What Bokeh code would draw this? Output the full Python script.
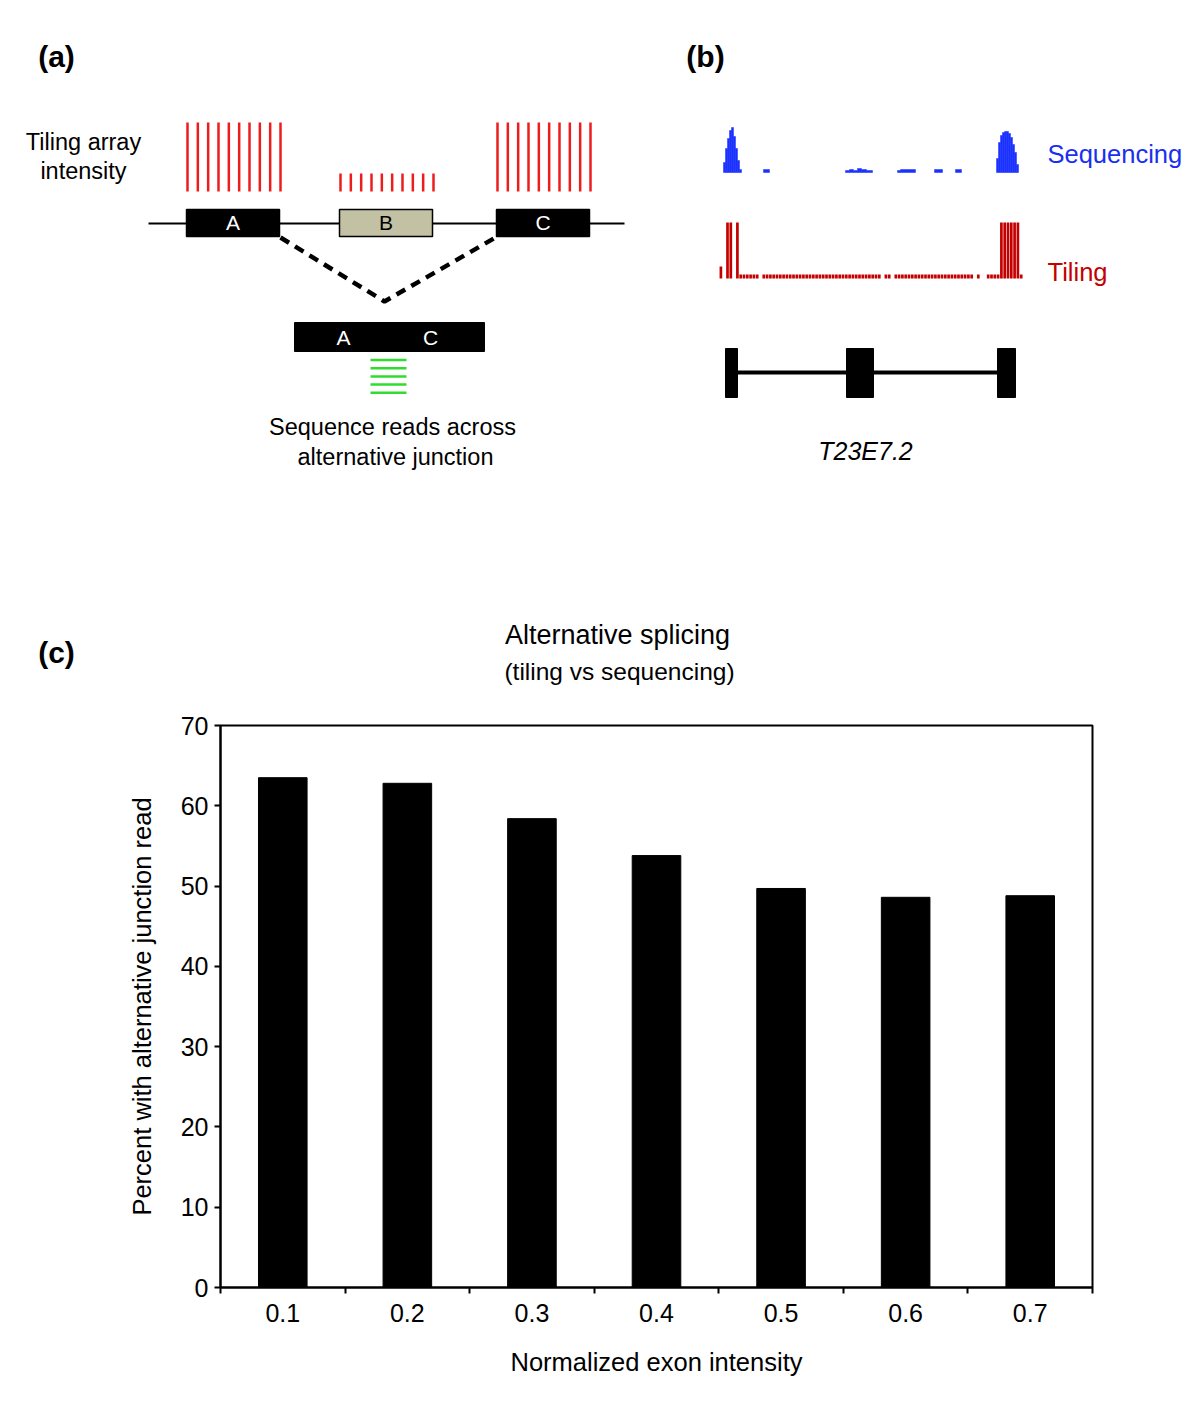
from bokeh.plotting import figure
from bokeh.models import Range1d, FixedTicker, CustomJSTickFormatter
from bokeh.embed import file_html
from bokeh.resources import INLINE
from bokeh.core.properties import value

FONT = "Liberation Sans"

# ---------------- data ----------------
# Panel (c): alternative splicing, tiling vs sequencing
intensity_labels = ["0.1", "0.2", "0.3", "0.4", "0.5", "0.6", "0.7"]
pct_with_junction_read = [63.5, 62.8, 58.4, 53.8, 49.7, 48.6, 48.8]
y_tick_values = [0, 10, 20, 30, 40, 50, 60, 70]

# Panel (a): schematic
exon_names = ["A", "B", "C"]
exon_tiling_intensity = [1.0, 0.26, 1.0]
probes_per_exon = 10
junction_read_count = 5

# Panel (b): T23E7.2 tracks
tiling_probe_signal = [3, 0, 14, 14, 0, 14, 1, 1, 1, 1,
                       1, 1, 0, 1, 1, 1, 1, 1, 1, 1,
                       1, 1, 1, 1, 1, 1, 1, 1, 1, 1,
                       1, 1, 1, 1, 1, 1, 1, 1, 1, 1,
                       1, 1, 1, 1, 1, 1, 1, 1, 1, 0,
                       1, 1, 0, 1, 1, 1, 1, 1, 1, 1,
                       1, 1, 1, 1, 1, 1, 1, 1, 1, 1,
                       1, 1, 1, 1, 1, 1, 1, 0, 1, 0,
                       0, 1, 1, 1, 1, 14, 14, 14, 14, 14,
                       14, 1]
# sequencing coverage as (start, end, depth) runs, in track coordinates (0 = track start)
seq_run_start = [3, 5, 7, 9, 11, 13, 15, 17, 19,
                 43,
                 125, 129, 133, 137, 141, 146,
                 177, 180, 214, 235,
                 276, 278, 280, 282, 284, 286, 288, 290, 292, 294, 296]
seq_run_end = [5, 7, 9, 11, 13, 15, 17, 19, 21,
               49,
               129, 133, 137, 141, 146, 152,
               180, 195, 222, 241,
               278, 280, 282, 284, 286, 288, 290, 292, 294, 296, 298]
seq_run_depth = [10, 24, 34, 42, 45, 36, 24, 12, 3,
                 3,
                 2, 3, 2, 4, 3, 2,
                 2, 3, 3, 3,
                 14, 30, 37, 40, 41, 41, 39, 35, 28, 20, 8]
gene_exon_start = [5, 126, 277]
gene_exon_end = [17, 153, 295]

# ---------------- top figure: panels (a), (b) and titles ----------------
TOP_H = 700
top = figure(width=1200, height=TOP_H, x_range=Range1d(0, 1200), y_range=Range1d(TOP_H, 0),
             x_axis_location=None, y_axis_location=None, toolbar_location=None,
             output_backend="svg", min_border=0, outline_line_color=None)
top.grid.visible = False


def txt(fig, x, y, s, size, color="black", align="center", style="normal"):
    fig.text(x=[x], y=[y], text=[s], text_font=value(FONT), text_font_size=size,
             text_color=color, text_align=align, text_baseline="middle",
             text_font_style=style)


txt(top, 56, 56, "(a)", "30px", style="bold")
txt(top, 705, 56, "(b)", "30px", style="bold")
txt(top, 56, 652, "(c)", "30px", style="bold")

# panel (a)
txt(top, 83, 141, "Tiling array", "23.5px")
txt(top, 83, 170, "intensity", "23.5px")
top.line([148, 624], [223, 223], line_color="black", line_width=2)
exon_left = [186, 339, 496]
exon_width = 93
probe_gap = exon_width / (probes_per_exon - 1)
base_y = 191
for name, left, inten in zip(exon_names, exon_left, exon_tiling_intensity):
    xs = [left + 1 + k * probe_gap for k in range(probes_per_exon)]
    top.segment(x0=xs, y0=[base_y] * len(xs), x1=xs, y1=[base_y - 69 * inten] * len(xs),
                line_color="#ee1c1c", line_width=2.5)
    is_skipped = name == "B"
    top.quad(left=[left], right=[left + exon_width], top=[209], bottom=[236],
             fill_color="#c3c1a4" if is_skipped else "black",
             line_color="black", line_width=1.5)
    txt(top, left + exon_width / 2, 222, name, "21px", color="black" if is_skipped else "white")

top.line([280, 384, 495], [237, 301, 237], line_color="black", line_width=4.5, line_dash="10 7")
top.quad(left=[294], right=[484], top=[322], bottom=[351], fill_color="black", line_color="black")
txt(top, 343, 337, "A", "21px", color="white")
txt(top, 430, 337, "C", "21px", color="white")
read_y = [359.5 + 8.2 * k for k in range(junction_read_count)]
top.segment(x0=[370] * junction_read_count, y0=read_y, x1=[406] * junction_read_count, y1=read_y,
            line_color="#2fdc2f", line_width=2.5)
txt(top, 392, 426, "Sequence reads across", "23.5px")
txt(top, 395, 456, "alternative junction", "23.5px")

# panel (b)
track_x0 = 720
seq_base = 172
top.quad(left=[track_x0 + s for s in seq_run_start], right=[track_x0 + e for e in seq_run_end],
         bottom=[seq_base] * len(seq_run_depth), top=[seq_base - d for d in seq_run_depth],
         fill_color="#1a30ff", line_color="#1a30ff", line_width=0.5)
txt(top, 1047, 153, "Sequencing", "25.5px", color="#1a2ff0", align="left")

tile_base = 278
tile_step = 3.3
tx = [track_x0 - 1 + 1.4 + i * tile_step for i in range(len(tiling_probe_signal))]
top.vbar(x=[x for x, v in zip(tx, tiling_probe_signal) if v > 0], width=2.7,
         bottom=tile_base,
         top=[tile_base - 4 * v for v in tiling_probe_signal if v > 0],
         fill_color="#c40000", line_color=None)
txt(top, 1047, 271, "Tiling", "25.5px", color="#c40000", align="left")

top.line([track_x0 + gene_exon_start[0], track_x0 + gene_exon_end[-1]], [372, 372],
         line_color="black", line_width=4)
top.quad(left=[track_x0 + s for s in gene_exon_start], right=[track_x0 + e for e in gene_exon_end],
         top=[348] * 3, bottom=[397] * 3, fill_color="black", line_color="black")
txt(top, 865, 450, "T23E7.2", "25px", style="italic")

# panel (c) titles
txt(top, 617, 634, "Alternative splicing", "27px")
txt(top, 619, 671, "(tiling vs sequencing)", "24.5px")

# ---------------- bottom figure: bar chart (c) ----------------
n = len(intensity_labels)
centers = [i + 0.5 for i in range(n)]
bounds = [i for i in range(n + 1)]

BAR_H = 715
bar = figure(width=1200, height=BAR_H, x_range=Range1d(0, n), y_range=Range1d(0, 70),
             toolbar_location=None, output_backend="svg",
             min_border_left=220, min_border_right=108, min_border_top=1287 - 562 - TOP_H,
             min_border_bottom=TOP_H + BAR_H - 1287,
             outline_line_color="black", outline_line_width=2)
bar.grid.visible = False
bar.vbar(x=centers, top=pct_with_junction_read, width=0.39, bottom=0,
         fill_color="black", line_color="black")

xa = bar.xaxis[0]
xa.ticker = FixedTicker(ticks=centers, minor_ticks=bounds)
xa.formatter = CustomJSTickFormatter(args=dict(labels=intensity_labels),
                                     code="const i = Math.round(tick - 0.5); return (i >= 0 && i < labels.length) ? labels[i] : '';")
xa.major_tick_out = 0
xa.major_tick_in = 0
xa.minor_tick_out = 6
xa.minor_tick_in = 0
xa.minor_tick_line_width = 2
xa.minor_tick_line_color = "black"
xa.axis_line_width = 2
xa.axis_line_color = "black"
xa.major_label_text_font = FONT
xa.major_label_text_font_size = "25px"
xa.major_label_text_color = "black"
xa.major_label_standoff = 10
xa.axis_label = "Normalized exon intensity"
xa.axis_label_text_font = FONT
xa.axis_label_text_font_size = "25.5px"
xa.axis_label_text_font_style = "normal"
xa.axis_label_text_color = "black"
xa.axis_label_standoff = 23

ya = bar.yaxis[0]
ya.ticker = FixedTicker(ticks=y_tick_values, minor_ticks=[])
ya.major_tick_out = 6
ya.major_tick_in = 0
ya.major_tick_line_width = 2
ya.major_tick_line_color = "black"
ya.axis_line_width = 2
ya.axis_line_color = "black"
ya.major_label_text_font = FONT
ya.major_label_text_font_size = "25px"
ya.major_label_text_color = "black"
ya.major_label_standoff = 6
ya.axis_label = "Percent with alternative junction read"
ya.axis_label_text_font = FONT
ya.axis_label_text_font_size = "25.5px"
ya.axis_label_text_font_style = "normal"
ya.axis_label_text_color = "black"
ya.axis_label_standoff = 22

# two independent roots (no frame alignment between them), stacked on the page
open("out.html", "w").write(file_html([top, bar], INLINE))
